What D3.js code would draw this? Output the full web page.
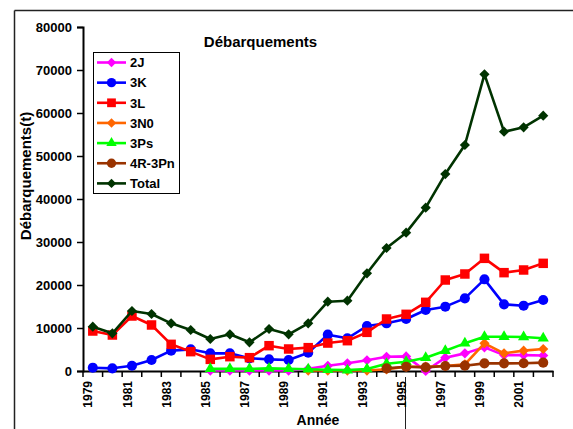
<!DOCTYPE html>
<html><head><meta charset="utf-8">
<script src="https://cdn.jsdelivr.net/npm/d3@7"></script>
<style>
body{margin:0;background:#fff;}
svg{display:block;font-family:"Liberation Sans",Arial,sans-serif;}
</style></head>
<body><svg id="c" width="573" height="429"></svg>
<script>
const years = ["1979","1980","1981","1982","1983","1984","1985","1986","1987","1988","1989","1990","1991","1992","1993","1994","1995","1996","1997","1998","1999","2000","2001","2002"];
const yTicks = [0,10000,20000,30000,40000,50000,60000,70000,80000];
const s2J   = [null,null,null,null,null,null,100,100,100,100,100,500,1200,1800,2500,3300,3400,0,3100,4100,5500,3700,3700,3600];
const s3K   = [770,620,1230,2560,4730,5040,4110,4110,2950,2710,2560,4260,8450,7600,10470,11090,12090,14190,14960,16900,21320,15500,15190,16510];
const s3L   = [9300,8370,12790,10700,6200,4500,2710,3330,3100,5890,5120,5430,6500,7050,8990,12090,13180,15970,21160,22560,26200,22870,23490,25040];
const s3N0  = [null,null,null,null,null,null,null,null,null,null,null,100,100,100,100,390,1000,1000,1160,1550,6430,4110,4730,5120];
const s3Ps  = [null,null,null,null,null,null,500,500,500,600,500,400,300,200,450,1700,2170,3100,4730,6430,7980,7980,7900,7600];
const s4R   = [null,null,null,null,null,null,null,null,null,null,null,null,null,null,null,620,1000,850,1160,1240,1780,1780,1800,1940];
const sTot  = [10300,8760,13950,13260,11090,9530,7440,8530,6670,9770,8530,11090,16120,16350,22720,28600,32170,37980,45800,52560,69000,55650,56670,59380];

const series = [
  {name:"2J", values:s2J, color:"#FF00FF", sym:"diamond"},
  {name:"3K", values:s3K, color:"#0000FF", sym:"circle"},
  {name:"3L", values:s3L, color:"#FF0000", sym:"square"},
  {name:"3N0", values:s3N0, color:"#FF6600", sym:"diamond"},
  {name:"3Ps", values:s3Ps, color:"#00FF00", sym:"triangle"},
  {name:"4R-3Pn", values:s4R, color:"#993300", sym:"circle"},
  {name:"Total", values:sTot, color:"#003300", sym:"diamond"}
];
const symDefs = {
  diamond:{type:d3.symbolSquare, size:52, rot:45},
  circle:{type:d3.symbolCircle, size:80, rot:0},
  square:{type:d3.symbolSquare, size:90, rot:0},
  triangle:{type:d3.symbolTriangle, size:55, rot:0}
};

const svg = d3.select("#c");
const L=83, R=553, T=27, B=371;
const x = d3.scaleBand().domain(years).range([L,R]);
const y = d3.scaleLinear().domain([0,80000]).range([B,T]);

// outer frame
svg.append("line").attr("x1",14.5).attr("x2",573).attr("y1",10.5).attr("y2",10.5).attr("stroke","#222").attr("stroke-width",1.5);
svg.append("line").attr("x1",14.5).attr("x2",14.5).attr("y1",10.5).attr("y2",429).attr("stroke","#222").attr("stroke-width",1.5);
svg.append("line").attr("x1",405.5).attr("x2",405.5).attr("y1",377).attr("y2",429).attr("stroke","#222").attr("stroke-width",1);

// y axis
const ya = svg.append("g").attr("transform",`translate(${L},0)`)
  .call(d3.axisLeft(y).tickValues(yTicks).tickSize(6).tickPadding(5).tickFormat(d3.format("d")));
ya.select(".domain").attr("stroke","#000").attr("stroke-width",2);
ya.selectAll(".tick line").attr("stroke","#000").attr("stroke-width",1.5);
ya.selectAll("text").attr("font-size",13).attr("font-weight","bold").attr("fill","#000").attr("font-family","Liberation Sans, Arial");

// x axis
const xa = svg.append("g").attr("transform",`translate(0,${B})`)
  .call(d3.axisBottom(x).tickSize(0).tickFormat(d=> (+d)%2===1 ? d : ""));
xa.select(".domain").attr("stroke","#000").attr("stroke-width",2);
xa.selectAll("text").attr("font-size",12).attr("font-weight","bold").attr("fill","#000")
  .attr("font-family","Liberation Sans, Arial")
  .attr("transform","rotate(-90)").attr("text-anchor","end").attr("dx","-10").attr("dy","-0.3em").attr("y",0).attr("x",0)
  .style("dominant-baseline","middle");
// ticks between categories
const tickPos = years.map(d=>x(d)).concat([R]);
svg.append("g").selectAll("line").data(tickPos).join("line")
  .attr("x1",d=>d).attr("x2",d=>d).attr("y1",B).attr("y2",B+6).attr("stroke","#000").attr("stroke-width",1.5);

// axis titles
svg.append("text").attr("x",(L+R)/2).attr("y",425).attr("text-anchor","middle")
  .attr("font-size",14).attr("font-weight","bold").text("Année");
svg.append("text").attr("transform",`translate(30.5,176) rotate(-90)`).attr("text-anchor","middle")
  .attr("font-size",15).attr("font-weight","bold").text("Débarquements(t)");
svg.append("text").attr("x",260.5).attr("y",47).attr("text-anchor","middle")
  .attr("font-size",15).attr("font-weight","bold").text("Débarquements");

const cx = d => x(d) + x.bandwidth()/2;
const line = d3.line().defined(d=>d.v!==null).x(d=>cx(d.yr)).y(d=>y(d.v));

series.forEach(s=>{
  const pts = years.map((yr,i)=>({yr, v:s.values[i]}));
  const sd = symDefs[s.sym];
  const g = svg.append("g");
  g.append("path").datum(pts).attr("d",line).attr("fill","none").attr("stroke",s.color).attr("stroke-width",2.6).attr("stroke-linejoin","round");
  g.selectAll("path.m").data(pts.filter(p=>p.v!==null)).join("path").attr("class","m")
    .attr("d",d3.symbol().type(sd.type).size(sd.size))
    .attr("transform",p=>`translate(${cx(p.yr)},${y(p.v)}) rotate(${sd.rot})`).attr("fill",s.color);
});

// legend
const lg = svg.append("g");
lg.append("rect").attr("x",93.5).attr("y",52.5).attr("width",86).attr("height",141).attr("fill","#fff").attr("stroke","#000").attr("stroke-width",1);
series.forEach((s,i)=>{
  const yy = 62.5 + i*20.15;
  const sd = symDefs[s.sym];
  lg.append("line").attr("x1",97).attr("x2",126).attr("y1",yy).attr("y2",yy).attr("stroke",s.color).attr("stroke-width",2.6);
  lg.append("path").attr("d",d3.symbol().type(sd.type).size(sd.size*0.85)).attr("transform",`translate(111.5,${yy}) rotate(${sd.rot})`).attr("fill",s.color);
  lg.append("text").attr("x",130).attr("y",yy+4.7).attr("font-size",13).attr("font-weight","bold").text(s.name);
});
</script></body></html>
